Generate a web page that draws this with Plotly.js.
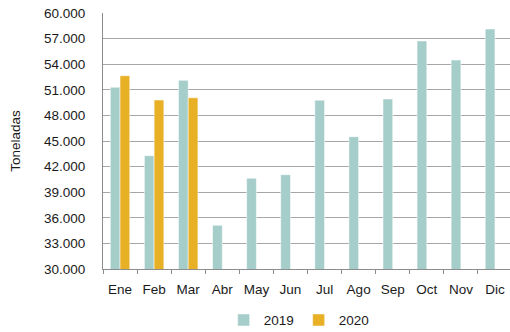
<!DOCTYPE html>
<html>
<head>
<meta charset="utf-8">
<script src="https://cdn.plot.ly/plotly-3.0.1.min.js"></script>
<style>
html,body{margin:0;padding:0;background:#fff;}
#chart{width:510px;height:332px;}
</style>
</head>
<body>
<div id="chart"></div>
<script>
var months = ["Ene","Feb","Mar","Abr","May","Jun","Jul","Ago","Sep","Oct","Nov","Dic"];
var values2019 = [51300, 43280, 52110, 35120, 40630, 41050, 49780, 45500, 49920, 56720, 54490, 58120];
var values2020 = [52650, 49800, 50070, null, null, null, null, null, null, null, null, null];
var yTicks = [30000,33000,36000,39000,42000,45000,48000,51000,54000,57000,60000];
var yTickText = ["30.000","33.000","36.000","39.000","42.000","45.000","48.000","51.000","54.000","57.000","60.000"];

var font = {family: "Liberation Sans, Arial, sans-serif", size: 13.5, color: "#1a1a1a"};

var traces = [
  {type: "bar", name: "2019", x: months, y: values2019,
   marker: {color: "#a5cdca", line: {color: "#ffffff", width: 0.5}}},
  {type: "bar", name: "2020", x: months, y: values2020,
   marker: {color: "#e8b025", line: {color: "#ffffff", width: 0.5}}}
];

var layout = {
  width: 512, height: 332,
  margin: {l: 103, r: 0, t: 13, b: 63, autoexpand: false},
  paper_bgcolor: "#ffffff", plot_bgcolor: "#ffffff",
  font: font,
  barmode: "group", bargap: 0.43, bargroupgap: 0,
  showlegend: true,
  legend: {orientation: "h", x: 0.295, xanchor: "left", y: -0.2, yanchor: "middle",
           font: font, itemwidth: 30, entrywidth: 30, entrywidthmode: "pixels",
           traceorder: "normal"},
  xaxis: {type: "category", showline: true, linecolor: "#8c8c8c", linewidth: 1,
          ticks: "outside", tickson: "boundaries", ticklen: 4, tickcolor: "#8c8c8c",
          ticklabelstandoff: 8, automargin: false,
          tickangle: 0, showgrid: false, tickfont: font, fixedrange: true},
  yaxis: {range: [30000, 60000], tickvals: yTicks, ticktext: yTickText,
          showline: true, linecolor: "#8c8c8c", linewidth: 1,
          showgrid: true, gridcolor: "#a6a6a6", gridwidth: 1,
          ticks: "outside", ticklen: 14, tickcolor: "rgba(0,0,0,0)",
          tickfont: font, zeroline: false, fixedrange: true,
          title: {text: "Toneladas", font: font, standoff: 20}}
};

Plotly.newPlot("chart", traces, layout, {displayModeBar: false, staticPlot: true});
</script>
</body>
</html>
